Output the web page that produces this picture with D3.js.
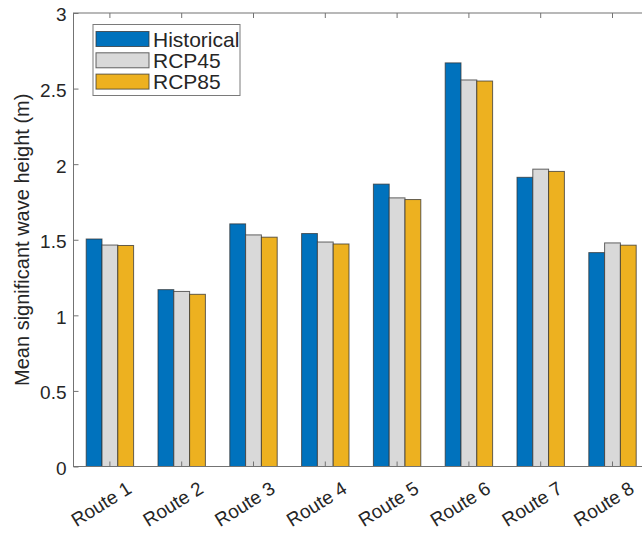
<!DOCTYPE html>
<html>
<head>
<meta charset="utf-8">
<script src="https://cdn.jsdelivr.net/npm/d3@7"></script>
<style>
  html, body { margin: 0; padding: 0; background: #fff; }
  svg { display: block; font-family: "Liberation Sans", Arial, Helvetica, sans-serif; }
</style>
</head>
<body>
<svg id="chart" width="642" height="536"></svg>
<script>
// Mean significant wave height per shipping route, three climate scenarios
const routes = ["Route 1", "Route 2", "Route 3", "Route 4", "Route 5", "Route 6", "Route 7", "Route 8"];
const seriesNames = ["Historical", "RCP45", "RCP85"];
const historical = [1.505, 1.170, 1.605, 1.541, 1.868, 2.670, 1.913, 1.415];
const rcp45      = [1.465, 1.158, 1.532, 1.485, 1.777, 2.557, 1.967, 1.479];
const rcp85      = [1.462, 1.139, 1.517, 1.472, 1.766, 2.550, 1.952, 1.464];
const yTicks = [0, 0.5, 1, 1.5, 2, 2.5, 3];
const colors = ["#0072BD", "#D9D9D9", "#EDB120"];

const seriesValues = [historical, rcp45, rcp85];
const rows = routes.map((r, i) => ({
  route: r,
  values: seriesNames.map((s, k) => ({ key: s, value: seriesValues[k][i] }))
}));

const svg = d3.select("#chart");
const plot = { left: 73.5, top: 13, right: 648.4, bottom: 466.5 };

const x0 = d3.scaleBand().domain(routes).range([plot.left + 0.5, plot.right]).padding(0);
const groupWidth = 47.4;
const x1 = d3.scaleBand().domain(seriesNames).range([-groupWidth / 2, groupWidth / 2]).padding(0);
const y = d3.scaleLinear().domain([0, 3]).range([plot.bottom, plot.top]);

const axisColor = "#737373";
const textColor = "#262626";

// bars
const groups = svg.append("g")
  .selectAll("g")
  .data(rows)
  .join("g")
  .attr("transform", d => `translate(${x0(d.route) + x0.bandwidth() / 2},0)`);

groups.selectAll("rect")
  .data(d => d.values)
  .join("rect")
  .attr("x", d => x1(d.key))
  .attr("y", d => y(d.value))
  .attr("width", x1.bandwidth())
  .attr("height", d => y(0) - y(d.value))
  .attr("fill", (d, i) => colors[i])
  .attr("stroke", "#333")
  .attr("stroke-opacity", 0.75)
  .attr("stroke-width", 1);

// axes box
svg.append("rect")
  .attr("x", plot.left).attr("y", plot.top)
  .attr("width", plot.right - plot.left).attr("height", plot.bottom - plot.top)
  .attr("fill", "none").attr("stroke", axisColor).attr("stroke-width", 1);

// y axis: inward ticks on left
const yAxis = d3.axisLeft(y).tickValues(yTicks).tickSizeInner(-5).tickSizeOuter(0)
  .tickPadding(7).tickFormat(d3.format("~g"));
const gy = svg.append("g").attr("transform", `translate(${plot.left},0)`).call(yAxis);
gy.select(".domain").remove();
gy.selectAll(".tick line").attr("stroke", axisColor);
gy.selectAll(".tick text").attr("fill", textColor).attr("dy", "0.42em").style("font-size", "19px");

// x axis: inward ticks at bottom and top
const xBottom = d3.axisBottom(x0).tickSizeInner(-5).tickSizeOuter(0).tickFormat("");
const gxb = svg.append("g").attr("transform", `translate(0,${plot.bottom})`).call(xBottom);
gxb.select(".domain").remove();
gxb.selectAll(".tick line").attr("stroke", axisColor);

const xTop = d3.axisTop(x0).tickSizeInner(-5).tickSizeOuter(0).tickFormat("");
const gxt = svg.append("g").attr("transform", `translate(0,${plot.top})`).call(xTop);
gxt.select(".domain").remove();
gxt.selectAll(".tick line").attr("stroke", axisColor);

// rotated category labels
svg.append("g").selectAll("text")
  .data(routes)
  .join("text")
  .attr("transform", d => `translate(${x0(d) + x0.bandwidth() / 2 + 23},${492}) rotate(-32)`)
  .attr("text-anchor", "end")
  .attr("fill", textColor)
  .style("font-size", "19px")
  .text(d => d);

// y axis title
svg.append("text")
  .attr("transform", `translate(29,${(plot.top + plot.bottom) / 2}) rotate(-90)`)
  .attr("text-anchor", "middle")
  .attr("fill", textColor)
  .style("font-size", "20px")
  .text("Mean significant wave height (m)");

// legend
const legend = svg.append("g").attr("transform", "translate(93,24.5)");
legend.append("rect")
  .attr("width", 147).attr("height", 71)
  .attr("fill", "#fff").attr("stroke", "#7a7a7a").attr("stroke-width", 1);
const items = legend.selectAll("g.item")
  .data(seriesNames)
  .join("g")
  .attr("class", "item")
  .attr("transform", (d, i) => `translate(3,${7 + i * 21.3})`);
items.append("rect")
  .attr("width", 53).attr("height", 15)
  .attr("fill", (d, i) => colors[i])
  .attr("stroke", "#333").attr("stroke-opacity", 0.75).attr("stroke-width", 1);
items.append("text")
  .attr("x", 57).attr("y", 15)
  .attr("fill", textColor)
  .style("font-size", "21px")
  .text(d => d);
</script>
</body>
</html>
